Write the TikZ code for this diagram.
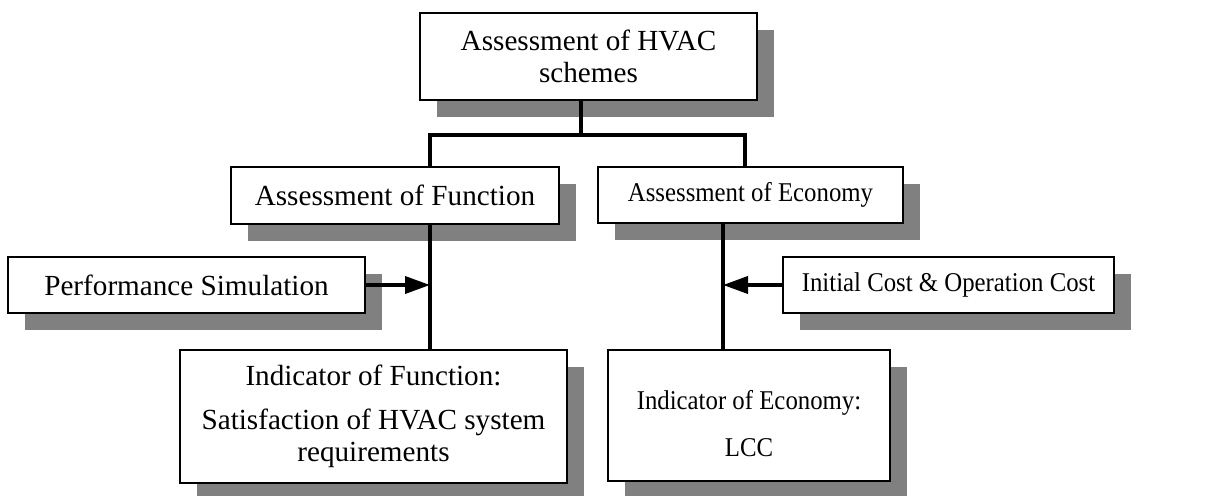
\documentclass[tikz,border=0pt]{standalone}
\usepackage{fontspec}
\setmainfont{Liberation Serif}
\usepackage{tikz}
\usetikzlibrary{arrows.meta,shadows,calc}
\newcommand{\nar}[1]{\scalebox{0.85}[0.93]{#1}}
\tikzset{
  box/.style={draw, line width=0.75pt, fill=white, align=center, inner sep=0pt,
    drop shadow={shadow xshift=0.34cm, shadow yshift=-0.34cm, fill=gray, opacity=1}},
  link/.style={line width=2.1pt},
  feed/.style={line width=2.1pt, -{Triangle[length=0.5cm,width=0.34cm]}}
}
\begin{document}
\begin{tikzpicture}
      \fontsize{16.6}{18.3}\selectfont
      \useasboundingbox (0,0) rectangle (24.46,-9.90);
      \node[box, minimum width=6.74cm, minimum height=1.74cm] (top) at (11.77,-1.13)
        {Assessment of HVAC\\schemes};
      \node[box, minimum width=6.56cm, minimum height=1.14cm] (func) at (7.90,-3.91)
        {Assessment of Function};
      \node[box, minimum width=6.10cm, minimum height=1.12cm] (econ) at (15.01,-3.90)
        {\nar{Assessment of Economy}};
      \node[box, minimum width=7.14cm, minimum height=1.12cm] (perf) at (3.73,-5.70)
        {Performance Simulation};
      \node[box, minimum width=6.62cm, minimum height=1.12cm] (cost) at (18.97,-5.70)
        {\nar{Initial Cost \& Operation Cost}};
      \node[box, minimum width=7.74cm, minimum height=2.66cm] (indF) at (7.47,-8.33)
        {Indicator of Function:\\[7pt]Satisfaction of HVAC system\\requirements};
      \node[box, minimum width=5.64cm, minimum height=2.62cm] (indE) at (14.98,-8.31)
        {\rule{0pt}{20pt}\nar{Indicator of Economy:}\\[8pt]\nar{LCC}};
      % junction points of the tree
      \coordinate (split) at (11.62,-2.70);
      \coordinate (bl) at (8.60,-2.70);
      \coordinate (br) at (14.90,-2.70);
      \coordinate (es) at (14.46,-5.70);
      \draw[link] (top.south -| split) -- (split);
      \draw[link] (func.north -| bl) -- (bl) -- (br) -- (br |- econ.north);
      \draw[link] (func.south -| bl) -- (indF.north -| bl);
      \draw[link] (econ.south -| es) -- (indE.north -| es);
      \draw[feed] (perf.east) -- (perf.east -| bl);
      \draw[feed] (cost.west) -- (es);
    \end{tikzpicture}
\end{document}
